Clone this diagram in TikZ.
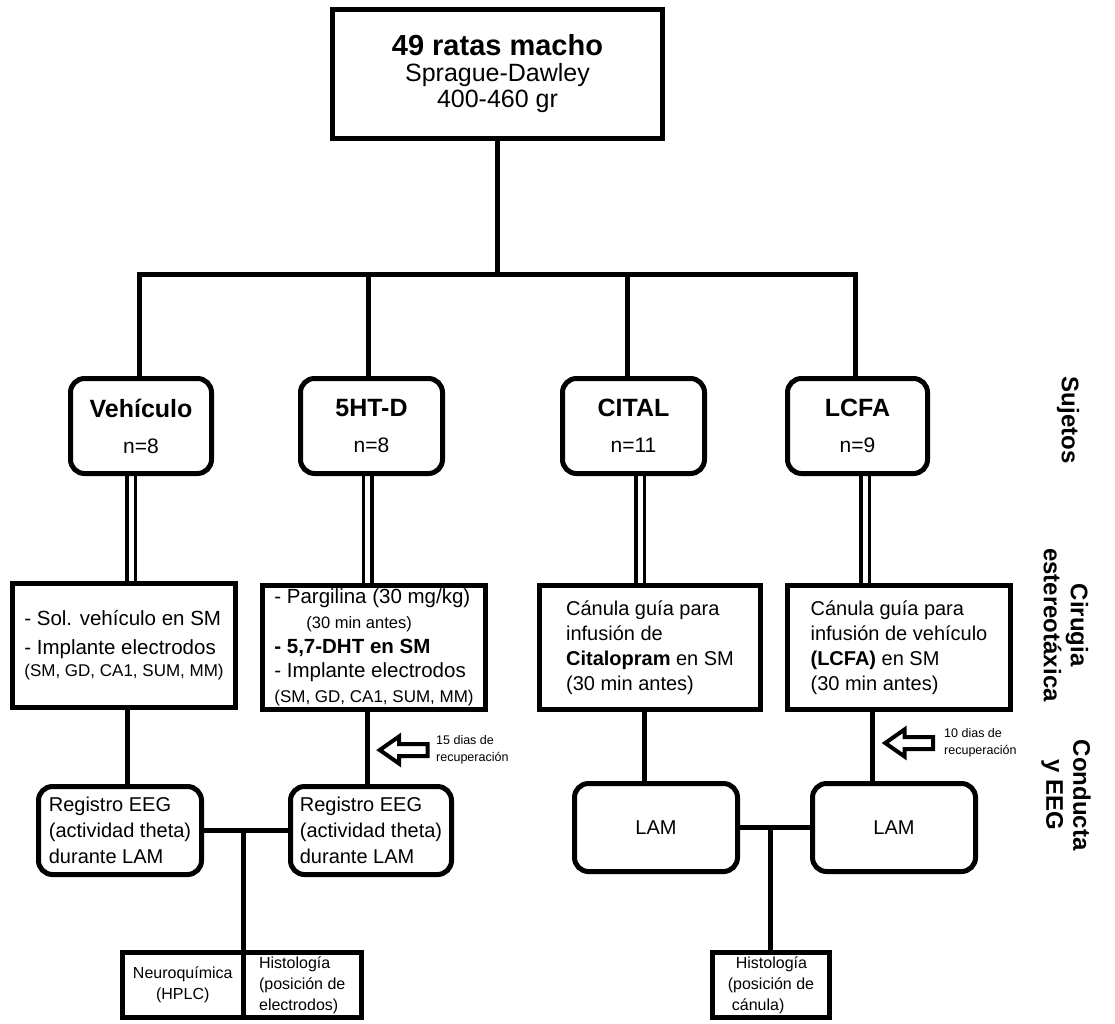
\documentclass[tikz,border=0pt]{standalone}
\usepackage{fontspec}
\setmainfont{Liberation Sans}
\usetikzlibrary{shapes.arrows}
\pgfdeclarelayer{bg}
\pgfsetlayers{bg,main}
\tikzset{
  box/.style={draw, line width=5pt, fill=white, inner sep=0pt},
  rbox/.style={box, rounded corners=14pt},
  conn/.style={line width=5pt, line join=miter},
  dbl/.style={line width=3.5pt, double=white, double distance=5pt},
  recarrow/.style={single arrow, draw, fill=white, line width=4pt,
    single arrow head extend=7.5pt, single arrow tip angle=70,
    shape border rotate=180, inner sep=4pt, minimum height=48pt},
  rectext/.style={font=\fontsize{12.5}{17}\selectfont, align=left, anchor=west, inner sep=0pt},
  side/.style={font=\bfseries\fontsize{24}{27}\selectfont, align=center, rotate=-90, inner sep=0pt},
  grp/.style={rbox, minimum height=95pt, align=center, font=\fontsize{21}{36}\selectfont},
  surg/.style={box, minimum height=124pt},
  reg/.style={rbox, minimum height=88pt, align=left, font=\fontsize{20}{26}\selectfont},
  small/.style={box, minimum height=65pt, font=\fontsize{16}{21}\selectfont},
}
\begin{document}
\begin{tikzpicture}[x=1pt,y=-1pt]
\useasboundingbox (0,0) rectangle (1115,1023);
\begin{pgfonlayer}{bg}
\fill[white] (0,0) rectangle (1115,1023);
\end{pgfonlayer}

% top box
\node[box, minimum width=330pt, minimum height=129pt, align=center,
      font=\fontsize{25}{26}\selectfont] (top) at (497.5,74)
  {{\bfseries\fontsize{29}{26}\selectfont 49 ratas macho}\\Sprague-Dawley\\400-460 gr};

% groups
\node[grp, minimum width=141pt] (vg) at (141,426) {{\bfseries\fontsize{25}{36}\selectfont Vehículo}\\n=8};
\node[grp, minimum width=142pt] (hg) at (371.5,426) {{\bfseries\fontsize{25}{36}\selectfont 5HT-D}\\n=8};
\node[grp, minimum width=142pt] (cg) at (633.5,426) {{\bfseries\fontsize{25}{36}\selectfont CITAL}\\n=11};
\node[grp, minimum width=140pt] (lg) at (857.5,426) {{\bfseries\fontsize{25}{36}\selectfont LCFA}\\n=9};

% surgery
\node[surg, minimum width=223pt, align=left, font=\fontsize{20.5}{22}\selectfont] (vs) at (124,645)
  {- Sol. vehículo en SM\\[7pt]- Implante electrodos\\{\fontsize{17}{22}\selectfont (SM, GD, CA1, SUM, MM)}};
\node[surg, minimum width=223pt, align=left, font=\fontsize{20.5}{24.75}\selectfont] (hs) at (374,647.5)
  {- Pargilina (30 mg/kg)\\\hspace*{32pt}{\fontsize{16.5}{24.75}\selectfont (30 min antes)}\\{\bfseries - 5,7-DHT en SM}\\- Implante electrodos\\{\fontsize{17}{24.75}\selectfont (SM, GD, CA1, SUM, MM)}};
\node[surg, minimum width=221pt, align=left, font=\fontsize{20}{25}\selectfont] (cs) at (650,647.5)
  {Cánula guía para\\infusión de\\\textbf{Citalopram} en SM\\(30 min antes)};
\node[surg, minimum width=223pt, align=left, font=\fontsize{20}{25}\selectfont] (ls) at (899,647.5)
  {Cánula guía para\\infusión de vehículo\\\textbf{(LCFA)} en SM\\(30 min antes)};

% behaviour / EEG
\node[reg, minimum width=163pt] (rl) at (120,830.5) {Registro EEG\\(actividad theta)\\durante LAM};
\node[reg, minimum width=161pt] (rr) at (371,830.5) {Registro EEG\\(actividad theta)\\durante LAM};
\node[reg, minimum width=163pt, align=center] (ml) at (656,827.5) {LAM};
\node[reg, minimum width=163pt, align=center] (mr) at (894,827.5) {LAM};

% final boxes
\node[small, minimum width=120.5pt, align=center] (neuro) at (182.75,985) {Neuroquímica\\(HPLC)};
\node[small, minimum width=118.5pt, align=left] (histl) at (302.25,985) {Histología\\(posición de\\electrodos)};
\node[small, minimum width=117pt, align=left] (histr) at (771,985) {\hspace*{8pt}Histología\\(posición de\\\hspace*{4pt}cánula)};

% recovery arrows
\node[recarrow] (ar1) at (408,750) {};
\node[rectext] (t1) at (436,750) {15 dias de\\recuperación};
\node[recarrow] (ar2) at (913.5,743) {};
\node[rectext] (t2) at (944,743) {10 dias de\\recuperación};

% side labels
\node[side] (s1) at (1068,420) {Sujetos};
\node[side] (s2) at (1066,625) {Cirugia\\estereotáxica};
\node[side] (s3) at (1066,795) {Conducta\\y EEG};

% helper coordinates
\coordinate (jt) at (497.5,274);
\coordinate (j1) at (139,274);
\coordinate (j2) at (368,274);
\coordinate (j3) at (627,274);
\coordinate (j4) at (855,274);
\coordinate (d1) at (131,0);
\coordinate (d2) at (367.5,0);
\coordinate (d3) at (640,0);
\coordinate (d4) at (865,0);
\coordinate (e1) at (127,0);
\coordinate (e2) at (367,0);
\coordinate (e3) at (644,0);
\coordinate (e4) at (872,0);
\coordinate (cl) at (243,830.5);
\coordinate (cr) at (770,827.5);

\begin{pgfonlayer}{bg}
\draw[conn] (top.south) -- (jt);
\draw[conn] (j1 |- vg.north) -- (j1) -- (j4) -- (j4 |- lg.north);
\draw[conn] (j2) -- (j2 |- hg.north);
\draw[conn] (j3) -- (j3 |- cg.north);
\draw[dbl] (vg.south -| d1) -- (vs.north -| d1);
\draw[dbl] (hg.south -| d2) -- (hs.north -| d2);
\draw[dbl] (cg.south -| d3) -- (cs.north -| d3);
\draw[dbl] (lg.south -| d4) -- (ls.north -| d4);
\draw[conn] (vs.south -| e1) -- (rl.north -| e1);
\draw[conn] (hs.south -| e2) -- (rr.north -| e2);
\draw[conn] (cs.south -| e3) -- (ml.north -| e3);
\draw[conn] (ls.south -| e4) -- (mr.north -| e4);
\draw[conn] (rl.east) -- (rr.west);
\draw[conn] (cl) -- (cl |- neuro.north);
\draw[conn] (ml.east) -- (mr.west);
\draw[conn] (cr) -- (cr |- histr.north);
\end{pgfonlayer}
\end{tikzpicture}
\end{document}
